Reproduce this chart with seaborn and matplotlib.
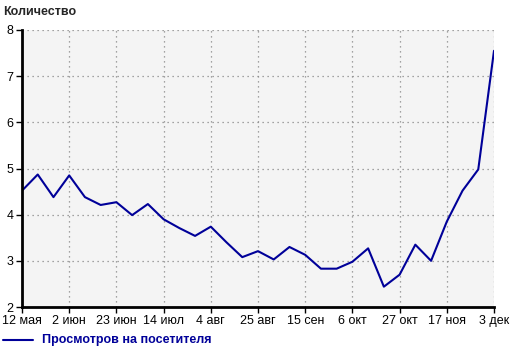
import matplotlib
matplotlib.use("Agg")
import matplotlib.pyplot as plt
import seaborn as sns
import pandas as pd

values = [4.52, 4.87, 4.38, 4.85, 4.38, 4.21, 4.27, 3.99, 4.23, 3.90,
          3.71, 3.54, 3.74, 3.40, 3.08, 3.21, 3.03, 3.30, 3.13, 2.83,
          2.83, 2.98, 3.27, 2.44, 2.70, 3.35, 3.00, 3.85, 4.52, 4.98, 7.55]
tick_positions = [0, 3, 6, 9, 12, 15, 18, 21, 24, 27, 30]
tick_labels = ["12 мая", "2 июн", "23 июн", "14 июл", "4 авг", "25 авг",
               "15 сен", "6 окт", "27 окт", "17 ноя", "3 дек"]
y_ticks = [2, 3, 4, 5, 6, 7, 8]
series_name = "Просмотров на посетителя"
y_title = "Количество"

df = pd.DataFrame({"idx": list(range(len(values))), "val": values})

sns.set_style("white")
plt.rcParams['font.family'] = ['Liberation Sans', 'DejaVu Sans']

W, H = 520, 353
fig = plt.figure(figsize=(W / 100, H / 100), dpi=100)
ax = fig.add_axes([22 / W, 1 - 307 / H, (494 - 22) / W, (307 - 30) / H])
ax.set_facecolor("#f4f4f4")

sns.lineplot(data=df, x="idx", y="val", ax=ax, color="#000099", linewidth=1.5)

ax.set_xlim(0, 30)
ax.set_ylim(2, 8)
ax.set_xticks(tick_positions)
ax.set_xticklabels(tick_labels, fontsize=9)
ax.set_yticks(y_ticks)
ax.set_yticklabels([str(v) for v in y_ticks], fontsize=9)
ax.set_xlabel("")
ax.set_ylabel("")

ax.grid(True, color="#888888", linestyle=(0, (1, 3)), linewidth=0.9)
for s in ["top", "right"]:
    ax.spines[s].set_visible(False)
for s in ["left", "bottom"]:
    ax.spines[s].set_color("black")
    ax.spines[s].set_linewidth(2)
ax.tick_params(axis="both", which="both", direction="out", length=4, width=1,
               color="black", pad=2, bottom=True, left=True, labelcolor="black")

fig.text(3 / W, 1 - 12 / H, y_title, fontsize=9, fontweight="bold",
         ha="left", va="center")

# legend
fig.add_artist(plt.Line2D([3 / W, 33 / W], [1 - 340 / H, 1 - 340 / H],
                          color="#000099", linewidth=1.5, transform=fig.transFigure))
fig.text(42 / W, 1 - 340 / H, series_name, fontsize=9, fontweight="bold",
         color="#000099", ha="left", va="center")

fig.savefig("out.png", dpi=100)
